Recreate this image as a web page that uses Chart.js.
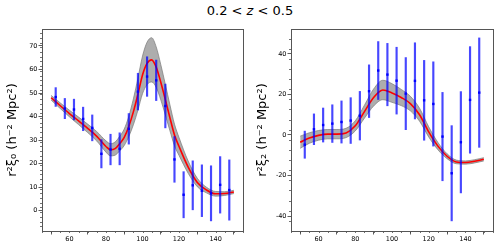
<!DOCTYPE html>
<html>
<head>
<meta charset="utf-8">
<script src="https://cdn.jsdelivr.net/npm/chart.js@4"></script>
<style>
  body { margin: 0; background: #fff; }
  #wrap { position: relative; width: 500px; height: 250px; }
  #title { position: absolute; left: 0; top: 3px; width: 500px; text-align: center;
           font: 13px "DejaVu Sans"; color: #000; }
  .box { position: absolute; top: 0; width: 250px; height: 250px; }
</style>
</head>
<body>
<div id="wrap">
  <div id="title">0.2 &lt; <i>z</i> &lt; 0.5</div>
  <div class="box" style="left:0"><canvas id="mono" width="250" height="250"></canvas></div>
  <div class="box" style="left:250px"><canvas id="quad" width="250" height="250"></canvas></div>
</div>
<script>
// measured points (bin centres)
const rData = [52.5, 57.5, 62.5, 67.5, 72.5, 77.5, 82.5, 87.5, 92.5, 97.5,
               102.5, 107.5, 112.5, 117.5, 122.5, 127.5, 132.5, 137.5, 142.5, 147.5];
const xi0 = [48.3, 43.4, 43.0, 39.0, 35.2, 24.2, 26.0, 26.3, 34.8, 50.6,
             57.0, 55.4, 44.5, 21.8, 6.8, 10.8, 8.5, 7.4, 11.0, 8.8];
const xi0Err = [4.0, 4.3, 4.4, 5.0, 5.5, 6.0, 6.5, 6.8, 6.5, 7.8,
                8.4, 8.6, 9.3, 9.7, 9.8, 10.4, 11.0, 11.7, 12.0, 12.8];
const xi2 = [-4.8, 2.8, 4.9, 5.6, 6.4, 7.1, 9.5, 21.6, 31.8, 29.8,
             26.8, 20.4, 26.7, 17.1, 15.3, -0.8, -18.9, -3.6, 17.3, 20.9];
const xi2Err = [6.7, 7.6, 8.4, 9.3, 10.4, 11.3, 12.0, 13.0, 14.3, 15.4,
                16.5, 17.8, 18.8, 19.7, 20.8, 21.8, 23.5, 25.0, 26.3, 27.0];

// best-fit model for the monopole, finer sampling round the BAO peak
const rModel0 = [50, 55, 60, 65, 70, 75, 80, 82.5, 85, 87.5, 90, 92.5, 95, 97.5, 100,
                 102.5, 105, 107.5, 110, 112.5, 115, 117.5, 120, 125, 130, 135, 140, 145, 150];
const xi0Model = [48.0, 44.6, 41.3, 38.2, 35.0, 31.6, 27.3, 25.9, 26.4, 28.5, 31.2, 35.8, 42.0, 49.5, 57.7,
                  62.6, 64.1, 61.0, 54.6, 47.2, 39.5, 32.2, 27.3, 18.5, 12.0, 8.8, 7.2, 7.3, 8.0];
const xi0Band = [1.0, 1.2, 1.4, 1.6, 1.8, 2.0, 2.4, 2.6, 2.8, 3.1, 3.5, 4.3, 5.5, 6.8, 8.0,
                 9.0, 9.4, 8.6, 7.5, 6.5, 5.5, 4.6, 3.8, 2.6, 1.8, 1.2, 1.0, 0.8, 0.7];
// quadrupole model
const rModel2 = [50, 55, 60, 65, 70, 75, 80, 85, 90, 95, 100,
                 105, 110, 115, 120, 125, 130, 135, 140, 145, 150];
const xi2Model = [-3.6, -1.5, -0.2, 0.4, 0.4, 1.0, 4.5, 11.5, 18.5, 22.2, 20.7,
                  18.5, 15.5, 10.0, 1.5, -5.5, -10.5, -13.3, -13.6, -13.0, -12.0];
const xi2Band = [3.0, 2.6, 2.4, 2.3, 2.3, 2.3, 2.5, 3.2, 4.2, 4.8, 4.6,
                 4.0, 3.6, 3.2, 2.5, 1.8, 1.2, 0.9, 0.8, 0.8, 0.8];

const xTicks = [60, 80, 100, 120, 140];
const xi0Ticks = [0, 10, 20, 30, 40, 50, 60, 70];
const xi2Ticks = [-40, -20, 0, 20, 40];

const tickFont = { family: "DejaVu Sans", size: 6.5 };

// box round the plot + small minor ticks like matplotlib
const frameTicks = {
  id: "frameTicks",
  afterDraw(chart, args, opts) {
    const { ctx, chartArea: a, scales } = chart;
    ctx.save();
    ctx.strokeStyle = "#333";
    ctx.lineWidth = 0.7;
    ctx.beginPath();
    for (let v = 45; v <= 155; v += 5) {
      const px = Math.round(scales.x.getPixelForValue(v)) + 0.5;
      ctx.moveTo(px, a.bottom);
      ctx.lineTo(px, a.bottom + 2);
    }
    for (let v = opts.yMin; v <= opts.yMax; v += opts.yStep) {
      const py = Math.round(scales.y.getPixelForValue(v)) + 0.5;
      if (py < a.top || py > a.bottom) continue;
      ctx.moveTo(a.left, py);
      ctx.lineTo(a.left - 2, py);
    }
    ctx.stroke();
    ctx.strokeStyle = "#555";
    ctx.lineWidth = 1;
    ctx.strokeRect(a.left + 0.5, a.top + 0.5, a.width, a.height);
    ctx.restore();
  }
};

function makeChart(id, rModel, vals, errs, model, band, yTicks, yMin, yMax, minorStep, yTitle, yWidth) {
  const errBars = rData.map((r, i) => ({ x: r, y: [vals[i] - errs[i], vals[i] + errs[i]] }));
  const pts = rData.map((r, i) => ({ x: r, y: vals[i] }));
  const hi = rModel.map((r, i) => ({ x: r, y: model[i] + band[i] }));
  const lo = rModel.map((r, i) => ({ x: r, y: model[i] - band[i] }));
  const mid = rModel.map((r, i) => ({ x: r, y: model[i] }));

  const curve = { pointRadius: 0, cubicInterpolationMode: "monotone" };
  return new Chart(document.getElementById(id), {
    type: "scatter",
    data: {
      datasets: [
        { ...curve, type: "line", data: hi, borderColor: "#7a7a7a", borderWidth: 0.7,
          backgroundColor: "#adadad", fill: "+1", order: 5 },
        { ...curve, type: "line", data: lo, borderColor: "#7a7a7a", borderWidth: 0.7,
          fill: false, order: 4 },
        { ...curve, type: "line", data: mid, borderColor: "#ff0000", borderWidth: 1.6,
          fill: false, order: 3 },
        { type: "bar", data: errBars, backgroundColor: "rgba(0,0,255,0.72)",
          barThickness: 1.5, grouped: false, order: 2 },
        { type: "scatter", data: pts, pointStyle: "rect", pointRadius: 1.7,
          backgroundColor: "#0000ff", borderWidth: 0, order: 1 }
      ]
    },
    options: {
      responsive: false,
      animation: false,
      layout: { padding: { top: 29, right: 7, left: 0, bottom: 0 } },
      plugins: {
        legend: { display: false },
        tooltip: { enabled: false },
        frameTicks: { yMin: yMin, yMax: yMax, yStep: minorStep }
      },
      scales: {
        x: {
          type: "linear", min: 45, max: 155, offset: false,
          afterBuildTicks: (s) => { s.ticks = xTicks.map(v => ({ value: v })); },
          afterFit: (s) => { s.height = 19; },
          grid: { drawOnChartArea: false, tickLength: 3.5, tickColor: "#333", tickWidth: 0.8 },
          border: { color: "#555" },
          ticks: { font: tickFont, color: "#000", padding: 1, maxRotation: 0 }
        },
        y: {
          min: yMin, max: yMax,
          afterBuildTicks: (s) => { s.ticks = yTicks.map(v => ({ value: v })); },
          afterFit: (s) => { s.width = yWidth; },
          grid: { drawOnChartArea: false, tickLength: 3.5, tickColor: "#333", tickWidth: 0.8 },
          border: { color: "#555" },
          ticks: { font: tickFont, color: "#000", padding: 1 },
          title: { display: true, text: yTitle, color: "#000",
                   font: { family: "DejaVu Sans", size: 13 }, padding: { top: 5, bottom: 0 } }
        }
      }
    },
    plugins: [frameTicks]
  });
}

makeChart("mono", rModel0, xi0, xi0Err, xi0Model, xi0Band, xi0Ticks, -8.6, 77.2, 2,
          "r²ξ₀ (h⁻² Mpc²)", 42);
makeChart("quad", rModel2, xi2, xi2Err, xi2Model, xi2Band, xi2Ticks, -47.4, 52.3, 5,
          "r²ξ₂ (h⁻² Mpc²)", 41);
</script>
</body>
</html>
